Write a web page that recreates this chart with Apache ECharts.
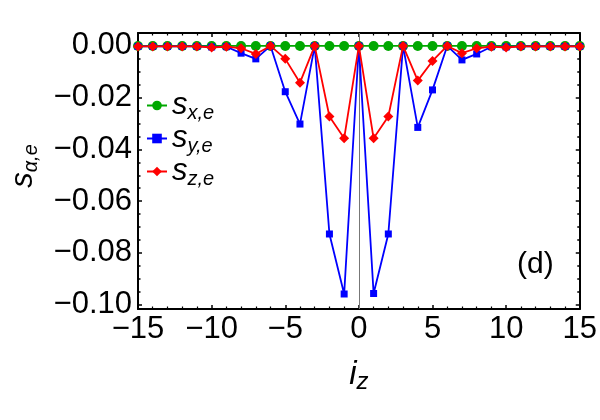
<!DOCTYPE html>
<html><head><meta charset="utf-8">
<script src="https://cdn.jsdelivr.net/npm/echarts@6/dist/echarts.min.js"></script>
<style>html,body{margin:0;padding:0;background:#fff}#c{width:600px;height:420px}</style>
</head><body><div id="c"></div>
<script>
const iz = [-15,-14,-13,-12,-11,-10,-9,-8,-7,-6,-5,-4,-3,-2,-1,0,1,2,3,4,5,6,7,8,9,10,11,12,13,14,15];
const sX = [0,0,0,0,0,0,0,0,0,0,0,0,0,0,0,0,0,0,0,0,0,0,0,0,0,0,0,0,0,0,0];
const sY = [-0.0002,-0.0002,-0.0002,-0.0002,-0.0002,-0.0004,-0.0003,-0.0028,-0.0050,0,-0.0177,-0.0302,0,-0.0727,-0.0959,0,-0.0957,-0.0727,0,-0.0315,-0.0170,0,-0.0054,-0.0031,-0.0003,-0.0004,-0.0002,-0.0002,-0.0002,-0.0002,-0.0002];
const sZ = [-0.0002,-0.0002,-0.0002,-0.0002,-0.0002,-0.0006,-0.0003,-0.0009,-0.0031,0,-0.0050,-0.0142,0,-0.0273,-0.0357,0,-0.0357,-0.0273,0,-0.0134,-0.0058,0,-0.0028,-0.0009,-0.0003,-0.0006,-0.0002,-0.0002,-0.0002,-0.0002,-0.0002];
const yMajor = [0,-0.02,-0.04,-0.06,-0.08,-0.10];
const yMinor = [0.005,-0.005,-0.01,-0.015,-0.025,-0.03,-0.035,-0.045,-0.05,-0.055,-0.065,-0.07,-0.075,-0.085,-0.09,-0.095];
const seriesNames = ['x,e','y,e','z,e'];
const X_MIN = -15, X_MAX = 15, Y_MIN = -0.1017, Y_MAX = 0.005;

const FONT = 'Liberation Sans, Arial, sans-serif';
const fmtMinus = (v, d) => { const s = Math.abs(v).toFixed(d); return (v < -1e-12 ? '\u2212' : '') + s; };
const pairs = arr => iz.map((x, i) => [x, arr[i]]);
const rich = {
  s: {fontSize: 31, fontStyle: 'italic', fontFamily: FONT, color: '#000', lineHeight: 35},
  sub: {fontSize: 20, fontStyle: 'italic', fontFamily: FONT, color: '#000', lineHeight: 20, verticalAlign: 'bottom'}
};
const richX = {
  s: {fontSize: 33, fontStyle: 'italic', fontFamily: FONT, color: '#000', lineHeight: 38},
  sub: {fontSize: 24, fontStyle: 'italic', fontFamily: FONT, color: '#000', lineHeight: 24, verticalAlign: 'bottom'}
};
const black = {color: '#000', width: 2};
const xBase = (pos, labels) => ({
  type: 'value', position: pos, min: X_MIN, max: X_MAX, interval: 5,
  axisLine: {show: true, onZero: false, lineStyle: black},
  axisTick: {show: true, inside: true, length: 4, lineStyle: {color: '#000', width: 1.5}},
  minorTick: {show: true, splitNumber: 5, length: 2.5, lineStyle: {color: '#000', width: 1.2}},
  splitLine: {show: false}, minorSplitLine: {show: false},
  axisLabel: {show: labels, fontSize: 31, fontFamily: FONT, color: '#000', margin: 5,
    formatter: v => fmtMinus(v, 0)}
});
const yBase = (pos, vals, len, line, labels) => ({
  type: 'value', position: pos, min: Y_MIN, max: Y_MAX,
  axisLine: {show: line, onZero: false, lineStyle: black},
  axisTick: {show: true, inside: true, length: len, customValues: vals, lineStyle: {color: '#000', width: 1.5}},
  splitLine: {show: false},
  axisLabel: {show: labels, customValues: yMajor, fontSize: 31, fontFamily: FONT, color: '#000', margin: 6,
    formatter: v => fmtMinus(v, 2)}
});

const xa0 = xBase('bottom', true);
xa0.name = '{s|i}{sub|z}';
xa0.nameLocation = 'middle';
xa0.nameGap = 47;
xa0.nameTextStyle = {rich: richX};
const ya0 = yBase('left', yMajor, 4, true, true);
ya0.name = '{s|s}{sub|\u03b1,e}';
ya0.nameLocation = 'middle';
ya0.nameRotate = 90;
ya0.nameGap = 97;
ya0.nameTextStyle = {rich, padding: [0, 0, 0, 10]};

const mk = (name, data, color, symbol, size, z) => ({
  name, type: 'line', data: pairs(data), xAxisIndex: 0, yAxisIndex: 0,
  symbol, symbolSize: size, z,
  lineStyle: {color, width: 1.8}, itemStyle: {color},
  emphasis: {disabled: true}
});

const chart = echarts.init(document.getElementById('c'), null, {renderer: 'canvas'});
const s1 = mk(seriesNames[0], sX, '#00a800', 'circle', 10, 3);
const s2 = mk(seriesNames[1], sY, '#0000ff', 'rect', 7, 4);
const s3 = mk(seriesNames[2], sZ, '#ff0000', 'diamond', 10, 5);
s1.markLine = {silent: true, symbol: 'none', label: {show: false}, z: 1,
  lineStyle: {color: '#777', width: 1, type: 'solid'}, data: [{xAxis: 0}]};
chart.setOption({
  animation: false,
  backgroundColor: '#fff',
  grid: {left: 134, right: 19, top: 33, bottom: 111},
  xAxis: [xa0, xBase('top', false)],
  yAxis: [ya0, yBase('left', yMinor, 2.5, false, false), yBase('right', yMajor, 4, true, false), yBase('right', yMinor, 2.5, false, false)],
  legend: {
    left: 141, top: 85, orient: 'vertical', itemGap: 0, itemWidth: 20, itemHeight: 12,
    data: seriesNames,
    formatter: n => '{s|s}{sub|' + n + '}',
    textStyle: {rich}
  },
  graphic: [{type: 'text', left: 517, top: 250, style: {text: '(d)', font: '30px ' + FONT, fill: '#000'}}],
  series: [s1, s2, s3]
});
</script></body></html>
